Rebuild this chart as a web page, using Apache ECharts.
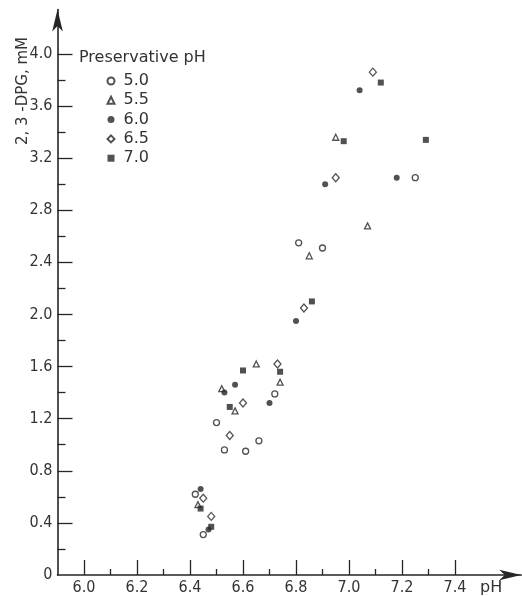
<!DOCTYPE html>
<html>
<head>
<meta charset="utf-8">
<script src="https://cdn.jsdelivr.net/npm/echarts@6/dist/echarts.min.js"></script>
<style>
  html, body { margin: 0; padding: 0; background: #fff; }
  #chart { width: 522px; height: 596px; }
</style>
</head>
<body>
<div id="chart"></div>
<script>
// Blood pH vs 2,3-DPG concentration, grouped by preservative pH
const groupNames = ['5.0', '5.5', '6.0', '6.5', '7.0'];

const ph50 = [[6.42, 0.62], [6.45, 0.31], [6.50, 1.17], [6.53, 0.96], [6.61, 0.95],
              [6.66, 1.03], [6.72, 1.39], [6.81, 2.55], [6.90, 2.51], [7.25, 3.05]];
const ph55 = [[6.43, 0.54], [6.57, 1.26], [6.52, 1.43], [6.65, 1.62], [6.74, 1.48],
              [6.85, 2.45], [7.07, 2.68], [6.95, 3.36]];
const ph60 = [[6.44, 0.66], [6.47, 0.35], [6.53, 1.40], [6.57, 1.46], [6.70, 1.32],
              [6.80, 1.95], [6.91, 3.00], [7.04, 3.72], [7.18, 3.05]];
const ph65 = [[6.45, 0.59], [6.48, 0.45], [6.55, 1.07], [6.60, 1.32], [6.73, 1.62],
              [6.83, 2.05], [6.95, 3.05], [7.09, 3.86]];
const ph70 = [[6.44, 0.51], [6.48, 0.37], [6.55, 1.29], [6.60, 1.57], [6.74, 1.56],
              [6.86, 2.10], [6.98, 3.33], [7.12, 3.78], [7.29, 3.34]];

const xMajorTicks = [6.0, 6.2, 6.4, 6.6, 6.8, 7.0, 7.2, 7.4];
const xMinorTicks = [6.1, 6.3, 6.5, 6.7, 6.9, 7.1, 7.3];
const yLabels = [0, 0.4, 0.8, 1.2, 1.6, 2.0, 2.4, 2.8, 3.2, 3.6, 4.0];
const yMajorTicks = [0.4, 0.8, 1.2, 1.6, 2.0, 2.4, 2.8, 3.2, 3.6, 4.0];
const yMinorTicks = [0.2, 0.6, 1.0, 1.4, 1.8, 2.2, 2.6, 3.0, 3.4, 3.8];

const ink = '#262626';
const textColor = '#333';
const tickFont = "'DejaVu Sans Condensed', 'DejaVu Sans', sans-serif";
const textFont = "'DejaVu Sans', sans-serif";

const hollow = { color: '#fff', borderColor: ink, borderWidth: 1.3 };
const solid = { color: ink, borderWidth: 0 };

const X_MIN = 5.9, X_MAX = 7.65, Y_MIN = 0, Y_MAX = 4.34;

function xAxisBase(extra) {
  return Object.assign({
    type: 'value', min: X_MIN, max: X_MAX, gridIndex: 0, position: 'bottom',
    splitLine: { show: false },
    axisLine: { show: false }
  }, extra);
}
function yAxisBase(extra) {
  return Object.assign({
    type: 'value', min: Y_MIN, max: Y_MAX, gridIndex: 0, position: 'left', offset: 0,
    splitLine: { show: false },
    axisLine: { show: false }
  }, extra);
}

const chart = echarts.init(document.getElementById('chart'), null, { renderer: 'canvas' });

chart.setOption({
  backgroundColor: '#fff',
  animation: false,
  title: {
    text: 'Preservative pH',
    left: 79, top: 50, padding: 0,
    textStyle: { fontFamily: textFont, fontSize: 16, fontWeight: 'normal', color: textColor }
  },
  legend: {
    orient: 'vertical',
    left: 106.5, top: 73, padding: 0,
    itemWidth: 7, itemHeight: 7, itemGap: 3.3,
    data: groupNames,
    textStyle: { fontFamily: textFont, fontSize: 16, color: textColor, padding: [0, 0, 0, 4] }
  },
  grid: { left: 57.5, right: 0.75, top: 9.6, bottom: 20, containLabel: false },
  xAxis: [
    xAxisBase({
      axisLine: {
        show: true, lineStyle: { color: ink, width: 1.6 },
        symbol: ['none', 'arrow'], symbolSize: [8, 22]
      },
      axisTick: { show: true, inside: true, length: 15, customValues: xMajorTicks,
                  lineStyle: { color: ink, width: 1.3 } },
      axisLabel: { show: true, margin: 5, customValues: xMajorTicks,
                   formatter: v => v.toFixed(1),
                   fontFamily: tickFont, fontSize: 16, color: textColor }
    }),
    xAxisBase({
      axisTick: { show: true, inside: true, length: 6, customValues: xMinorTicks,
                  lineStyle: { color: ink, width: 1.3 } },
      axisLabel: { show: false }
    })
  ],
  yAxis: [
    yAxisBase({
      axisLine: {
        show: true, lineStyle: { color: ink, width: 1.6 },
        symbol: ['none', 'arrow'], symbolSize: [8, 22]
      },
      axisTick: { show: true, inside: true, length: 15, customValues: yMajorTicks,
                  lineStyle: { color: ink, width: 1.3 } },
      axisLabel: { show: true, margin: 5, customValues: yLabels,
                   formatter: v => (v === 0 ? '0' : v.toFixed(1)),
                   fontFamily: tickFont, fontSize: 16, color: textColor }
    }),
    yAxisBase({
      axisTick: { show: true, inside: true, length: 8, customValues: yMinorTicks,
                  lineStyle: { color: ink, width: 1.3 } },
      axisLabel: { show: false }
    })
  ],
  graphic: [
    {
      type: 'text', x: 23, y: 91, rotation: Math.PI / 2,
      style: { text: '2, 3 -DPG, mM', fontFamily: textFont, fontSize: 15, fill: textColor,
               align: 'center', verticalAlign: 'middle' }
    },
    {
      type: 'text', x: 480, y: 588,
      style: { text: 'pH', fontFamily: textFont, fontSize: 16, fill: textColor,
               align: 'left', verticalAlign: 'middle' }
    }
  ],
  series: [
    { name: '5.0', type: 'scatter', data: ph50, symbol: 'circle', symbolSize: 6, itemStyle: hollow },
    { name: '5.5', type: 'scatter', data: ph55, symbol: 'triangle', symbolSize: 6, itemStyle: hollow },
    { name: '6.0', type: 'scatter', data: ph60, symbol: 'circle', symbolSize: 6, itemStyle: solid },
    { name: '6.5', type: 'scatter', data: ph65, symbol: 'diamond', symbolSize: [7, 8], itemStyle: hollow },
    { name: '7.0', type: 'scatter', data: ph70, symbol: 'rect', symbolSize: 6, itemStyle: solid }
  ]
});
</script>
</body>
</html>
